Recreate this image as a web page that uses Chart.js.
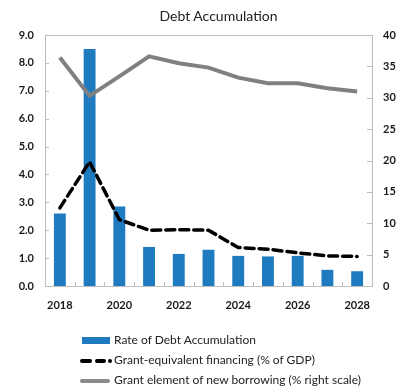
<!DOCTYPE html>
<html>
<head>
<meta charset="utf-8">
<script src="https://cdn.jsdelivr.net/npm/chart.js@4"></script>
<style>
  html, body { margin: 0; padding: 0; background: #fff; }
  #wrap { position: relative; width: 402px; height: 389px; }
  #title { position: absolute; left: 35px; right: 0; top: 7px; text-align: center; font: 14px Lato, sans-serif; color: #222; }
  #legend { position: absolute; left: 80px; top: 331px; font: 12px Lato, sans-serif; color: #222; }
  .row { position: relative; height: 20px; line-height: 18px; padding-left: 34px; white-space: nowrap; }
  .sw { position: absolute; left: 0; top: 0; }
  .bar { left: 2px; top: 6px; width: 28px; height: 7px; background: #1f7bc0; }
  .gray { left: 0; top: 8px; width: 30px; height: 4px; background: #8a8a8a; border-radius: 2px; }
  .dash { top: 8px; height: 4px; background: #000; border-radius: 2px; }
</style>
</head>
<body>
<div id="wrap">
  <canvas id="chart" width="402" height="389"></canvas>
  <div id="title">Debt Accumulation</div>
  <div id="legend"></div>
</div>
<script>
const years = ["2018", "2019", "2020", "2021", "2022", "2023", "2024", "2025", "2026", "2027", "2028"];
const debtAccumulation = [2.6, 8.5, 2.85, 1.4, 1.15, 1.3, 1.08, 1.06, 1.08, 0.58, 0.53];
const grantEquivalent = [2.8, 4.45, 2.38, 2.0, 2.02, 2.0, 1.38, 1.32, 1.19, 1.08, 1.06];
const grantElement = [36.4, 30.3, 33.4, 36.6, 35.5, 34.8, 33.2, 32.3, 32.3, 31.5, 31.0];

const legendNames = [
  "Rate of Debt Accumulation",
  "Grant-equivalent financing (% of GDP)",
  "Grant element of new borrowing (% right scale)",
];

// box around the plot plus short inward tick marks
const frame = {
  id: "frame",
  afterDatasetsDraw(chart) {
    const { ctx, chartArea: a, scales } = chart;
    ctx.save();
    ctx.strokeStyle = "#bdbdbd";
    ctx.lineWidth = 1;
    ctx.strokeRect(a.left + 0.5, a.top + 0.5, a.right - a.left, a.bottom - a.top);
    ctx.beginPath();
    scales.y.ticks.forEach((t, i) => {
      const y = Math.round(scales.y.getPixelForTick(i)) + 0.5;
      ctx.moveTo(a.left, y); ctx.lineTo(a.left + 4, y);
    });
    scales.y1.ticks.forEach((t, i) => {
      const y = Math.round(scales.y1.getPixelForTick(i)) + 0.5;
      ctx.moveTo(a.right, y); ctx.lineTo(a.right - 5, y);
    });
    const step = (a.right - a.left) / years.length;
    for (let i = 1; i < years.length; i++) {
      const x = Math.round(a.left + i * step) + 0.5;
      ctx.moveTo(x, a.bottom); ctx.lineTo(x, a.bottom - 4);
    }
    ctx.stroke();
    ctx.restore();
  },
};

const tickFont = { family: "Lato, sans-serif", size: 11, weight: "bold" };

new Chart(document.getElementById("chart"), {
  type: "bar",
  data: {
    labels: years,
    datasets: [
      {
        type: "line",
        label: legendNames[2],
        data: grantElement,
        yAxisID: "y1",
        borderColor: "#808080",
        borderWidth: 4,
        pointRadius: 0,
        tension: 0,
        order: 1,
      },
      {
        type: "line",
        label: legendNames[1],
        data: grantEquivalent,
        yAxisID: "y",
        borderColor: "#000",
        borderWidth: 3.5,
        borderDash: [9, 5],
        borderCapStyle: "round",
        pointRadius: 0,
        tension: 0,
        order: 2,
      },
      {
        label: legendNames[0],
        data: debtAccumulation,
        yAxisID: "y",
        backgroundColor: "#1f7bc0",
        categoryPercentage: 1,
        barPercentage: 0.4,
        order: 3,
      },
    ],
  },
  options: {
    responsive: false,
    animation: false,
    layout: { padding: { left: 0, right: 0, top: 35, bottom: 75 } },
    plugins: {
      legend: { display: false },
      tooltip: { enabled: false },
    },
    scales: {
      x: {
        offset: true,
        grid: { display: false, drawTicks: false },
        border: { display: false },
        ticks: {
          autoSkip: false,
          maxRotation: 0,
          padding: 13,
          color: "#1a1a1a",
          font: tickFont,
          callback: (v, i) => (i % 2 === 0 ? years[i] : ""),
        },
        afterFit: (s) => { s.height = 28; },
      },
      y: {
        position: "left",
        min: 0,
        max: 9,
        grid: { display: false, drawTicks: false },
        border: { display: false },
        ticks: {
          stepSize: 1,
          padding: 11,
          color: "#1a1a1a",
          font: tickFont,
          callback: (v) => v.toFixed(1),
        },
        afterFit: (s) => { s.width = 45; },
      },
      y1: {
        position: "right",
        min: 0,
        max: 40,
        grid: { display: false, drawTicks: false },
        border: { display: false },
        ticks: { stepSize: 5, padding: 11, color: "#1a1a1a", font: tickFont },
        afterFit: (s) => { s.width = 30; },
      },
    },
  },
  plugins: [frame],
});

// legend rows, one per series
const legend = document.getElementById("legend");
const samples = [
  '<span class="sw bar"></span>',
  '<span class="sw dash" style="left:0;width:12px"></span><span class="sw dash" style="left:15px;width:11px"></span><span class="sw dash" style="left:28px;width:4px"></span>',
  '<span class="sw gray"></span>',
];
legendNames.forEach((name, i) => {
  const row = document.createElement("div");
  row.className = "row";
  row.innerHTML = samples[i] + name;
  legend.appendChild(row);
});
</script>
</body>
</html>
